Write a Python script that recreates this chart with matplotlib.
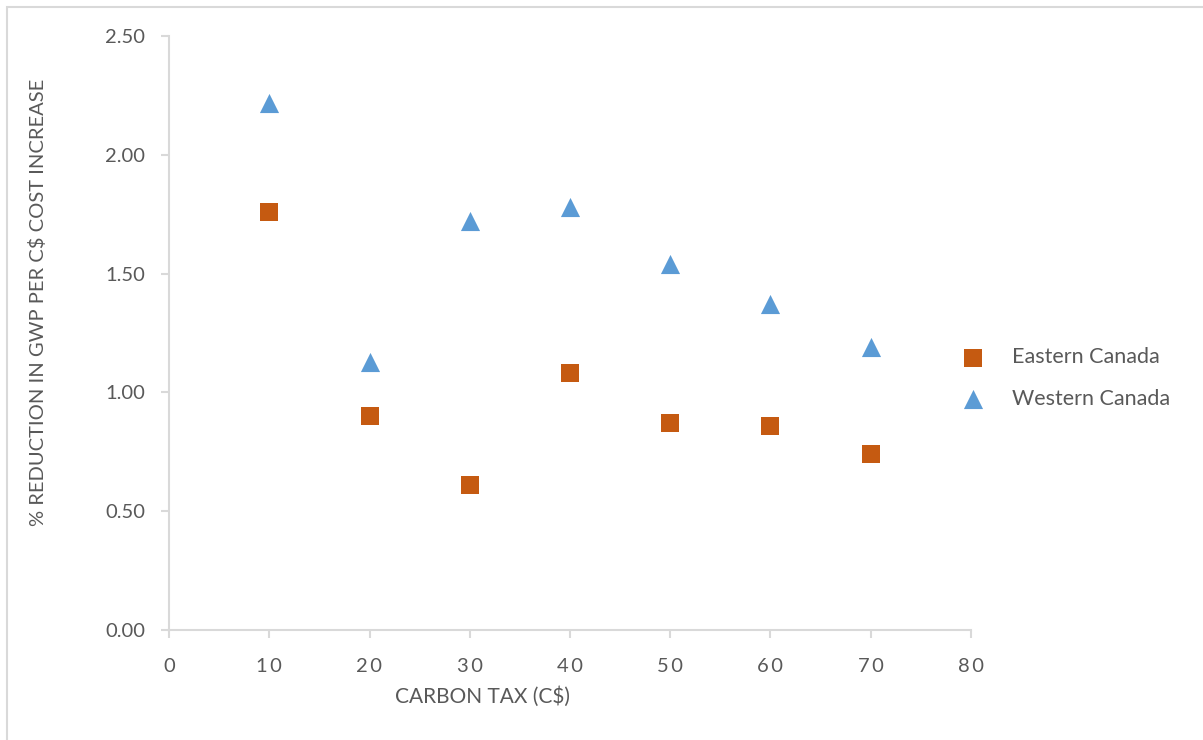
import matplotlib.pyplot as plt
from matplotlib.patches import Rectangle

plt.rcParams['font.family'] = ['Lato', 'DejaVu Sans']

carbon_tax = [10, 20, 30, 40, 50, 60, 70]
eastern = [1.76, 0.90, 0.61, 1.08, 0.87, 0.86, 0.74]
western = [2.22, 1.13, 1.72, 1.78, 1.54, 1.37, 1.19]
x_ticks = [0, 10, 20, 30, 40, 50, 60, 70, 80]
y_ticks = [0.0, 0.5, 1.0, 1.5, 2.0, 2.5]

grey = '#d9d9d9'
txt = '#595959'

fig = plt.figure(figsize=(12.03, 7.40), dpi=100)
fig.patches.append(Rectangle((7 / 1203, -0.1), 1.2, 1 - 7 / 740 + 0.1,
                             transform=fig.transFigure, fill=False,
                             edgecolor=grey, linewidth=1.5))
ax = fig.add_axes([169 / 1203, 1 - 630 / 740, (971 - 169) / 1203, (630 - 36) / 740])

ax.scatter(carbon_tax, eastern, marker='s', s=150, color='#c55a11',
           label='Eastern Canada', zorder=3, linewidths=0)
ax.scatter(carbon_tax, western, marker='^', s=190, color='#5b9bd5',
           label='Western Canada', zorder=3, linewidths=0)

ax.set_xlim(0, 80)
ax.set_ylim(0, 2.5)
ax.set_xticks(x_ticks)
ax.set_xticklabels(['\u2009'.join(str(v)) for v in x_ticks])
ax.set_yticks(y_ticks)
ax.set_yticklabels([f'{v:.2f}' for v in y_ticks])

for s in ['top', 'right']:
    ax.spines[s].set_visible(False)
for s in ['left', 'bottom']:
    ax.spines[s].set_color(grey)
    ax.spines[s].set_linewidth(1.5)
ax.tick_params(axis='both', colors=grey, labelcolor=txt, labelsize=14.5,
               length=6, width=1.5)
ax.tick_params(axis='x', pad=14)
ax.tick_params(axis='y', pad=11)

ax.set_xlabel('CARBON TAX (C$)', fontsize=15, color=txt)
ax.xaxis.set_label_coords((483 - 169) / (971 - 169), -(686 - 630) / (630 - 36))
ax.set_ylabel('% REDUCTION IN GWP PER C$ COST INCREASE', fontsize=14.5, color=txt)
ax.yaxis.set_label_coords(-(169 - 47) / (971 - 169), (630 - 302) / (630 - 36))

fig.legend(loc='center left', bbox_to_anchor=(932 / 1203, 1 - 378 / 740),
           frameon=False, fontsize=15.5, labelcolor=txt, handletextpad=0.8,
           labelspacing=1.0, markerscale=1.0)

fig.savefig('out.png', dpi=100)
